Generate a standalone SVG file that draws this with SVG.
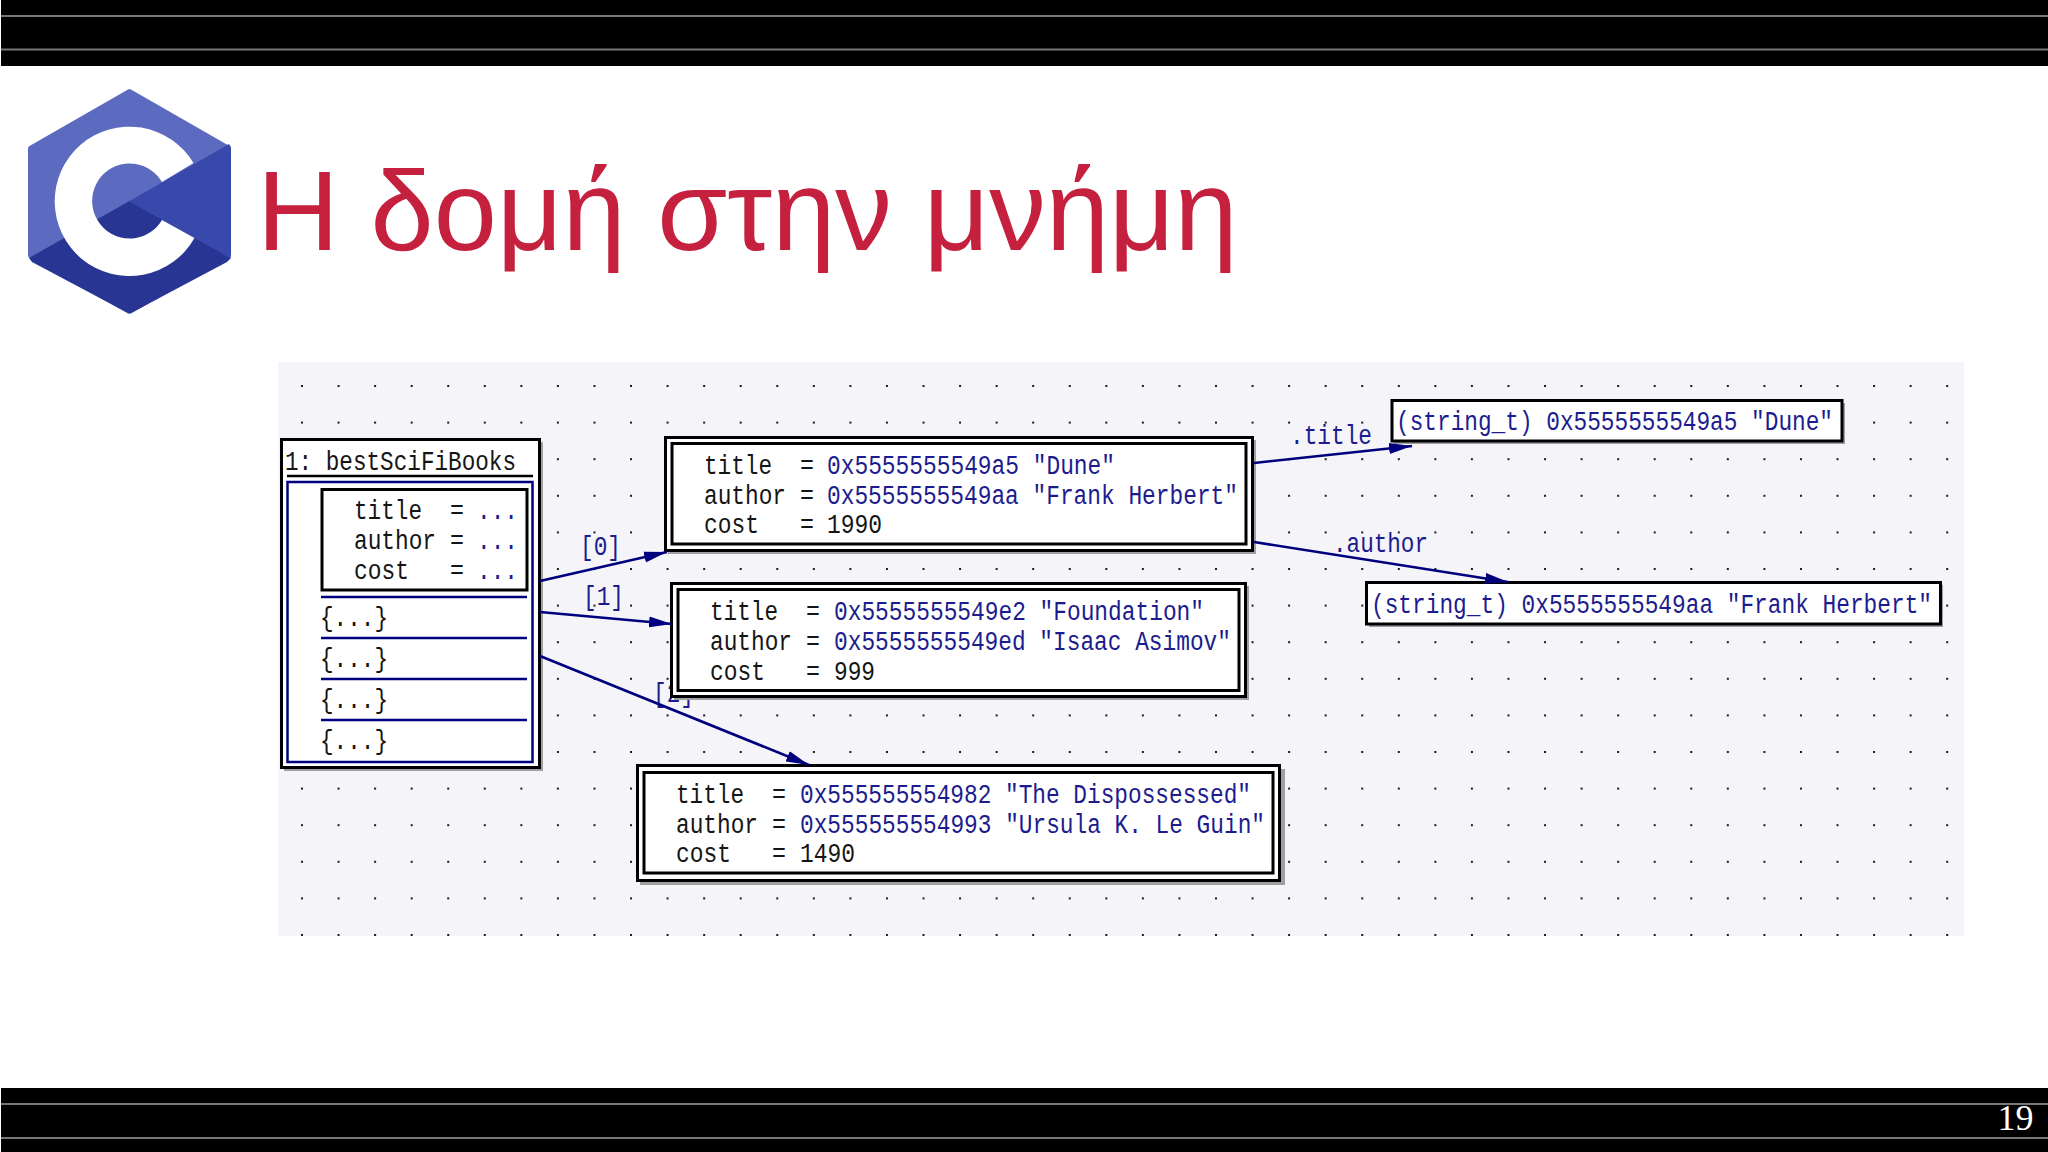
<svg xmlns="http://www.w3.org/2000/svg" width="2048" height="1152" viewBox="0 0 2048 1152">
<style>
.bar{fill:#000}
.rule{stroke:#777;stroke-width:2}
.k,.v{font-family:"Liberation Mono","DejaVu Sans Mono",monospace;font-size:27px}
.k{fill:#151515}
.v{fill:#1c1c8e}
.box{fill:#fff;stroke:#000;stroke-width:3}
.in{fill:none;stroke:#000;stroke-width:3}
.sh{fill:#a0a0a0}
.edge{fill:none;stroke:#00007f;stroke-width:2.6;marker-end:url(#head)}
.sep{stroke:#00007f;stroke-width:2.5}
</style>
<defs>
<pattern id="grid" patternUnits="userSpaceOnUse" x="301" y="385" width="36.56" height="36.6">
<rect width="2" height="2" fill="#1a1a1a"/>
</pattern>
<marker id="head" markerUnits="userSpaceOnUse" markerWidth="24" markerHeight="12" refX="23" refY="6" orient="auto">
<polygon points="0,0.5 23,6 0,11.5" fill="#00007f"/>
</marker>
</defs>
<rect width="2048" height="1152" fill="#fff"/>
<g id="top-bar">
<rect class="bar" x="1" y="0" width="2047" height="66"/>
<line class="rule" x1="1" y1="16" x2="2048" y2="16"/>
<line class="rule" x1="1" y1="49.5" x2="2048" y2="49.5"/>
</g>
<g id="bottom-bar">
<rect class="bar" x="1" y="1088" width="2047" height="64"/>
<line class="rule" x1="1" y1="1104" x2="2048" y2="1104"/>
<line class="rule" x1="1" y1="1138" x2="2048" y2="1138"/>
<text x="1997.5" y="1130" font-family="'Liberation Serif',serif" font-size="36" fill="#fff">19</text>
</g>
<g id="logo">
<path d="M129.500 92 L228 148.500 V255.500 L129.500 311 L31 255.500 V148.500 Z" fill="#5c6bc0" stroke="#5c6bc0" stroke-width="6" stroke-linejoin="round"/>
<path d="M129.500 201 L231 258 L227 262 L131 313 H128 L32 262 L29 258 Z" fill="#283593"/>
<path d="M129.500 201 L229 144 Q231 146 231 150 V254 Q231 257 230 258 Z" fill="#3949ab"/>
<path d="M193.500 163 A74.700 74.700 0 1 0 194.500 238 L162 220 A37.500 37.500 0 1 1 162 182 Z" fill="#fff"/>
</g>
<text id="title" x="257" y="250" font-family="'Liberation Sans',sans-serif" font-size="113.600" fill="#c5203d">Η δομή στην μνήμη</text>
<g id="canvas">
<rect x="278" y="362" width="1686" height="574" fill="#f5f4f8"/>
<rect x="278" y="362" width="1686" height="574" fill="url(#grid)"/>
</g>
<g id="label-index-2">
<text class="v" x="653" y="702" textLength="41" lengthAdjust="spacingAndGlyphs">[2]</text>
</g>
<g id="node-bestSciFiBooks">
<rect class="sh" x="284" y="442" width="259" height="329"/>
<rect class="box" x="281.500" y="439.500" width="258" height="328"/>
<text class="k" x="285" y="470" textLength="231" lengthAdjust="spacingAndGlyphs">1: bestSciFiBooks</text>
<line x1="287" y1="476" x2="533" y2="476" stroke="#000" stroke-width="2.500"/>
<rect x="287.500" y="482" width="245" height="280" fill="none" stroke="#00007f" stroke-width="2.500"/>
<rect class="in" x="322" y="489.500" width="205" height="100.500"/>
<text class="k" x="354" y="519" textLength="68" lengthAdjust="spacingAndGlyphs">title</text>
<text class="k" x="354" y="549" textLength="82" lengthAdjust="spacingAndGlyphs">author</text>
<text class="k" x="354" y="579" textLength="55" lengthAdjust="spacingAndGlyphs">cost</text>
<text class="k" x="450" y="519" textLength="14" lengthAdjust="spacingAndGlyphs">=</text>
<text class="k" x="450" y="549" textLength="14" lengthAdjust="spacingAndGlyphs">=</text>
<text class="k" x="450" y="579" textLength="14" lengthAdjust="spacingAndGlyphs">=</text>
<text class="v" x="477" y="519" textLength="41" lengthAdjust="spacingAndGlyphs">...</text>
<text class="v" x="477" y="549" textLength="41" lengthAdjust="spacingAndGlyphs">...</text>
<text class="v" x="477" y="579" textLength="41" lengthAdjust="spacingAndGlyphs">...</text>
<line class="sep" x1="321" y1="597" x2="527" y2="597"/>
<line class="sep" x1="321" y1="638" x2="527" y2="638"/>
<line class="sep" x1="321" y1="679" x2="527" y2="679"/>
<line class="sep" x1="321" y1="720" x2="527" y2="720"/>
<text class="k" x="320" y="626" textLength="68" lengthAdjust="spacingAndGlyphs">{...}</text>
<text class="k" x="320" y="667" textLength="68" lengthAdjust="spacingAndGlyphs">{...}</text>
<text class="k" x="320" y="708" textLength="68" lengthAdjust="spacingAndGlyphs">{...}</text>
<text class="k" x="320" y="749" textLength="68" lengthAdjust="spacingAndGlyphs">{...}</text>
</g>
<g id="node-book-0">
<rect class="sh" x="668" y="440" width="588" height="114"/>
<rect class="box" x="665.500" y="437.500" width="587" height="113"/>
<rect class="in" x="672" y="443.500" width="574" height="100.500"/>
<text class="k" x="704" y="474" textLength="68" lengthAdjust="spacingAndGlyphs">title</text>
<text class="k" x="704" y="504" textLength="82" lengthAdjust="spacingAndGlyphs">author</text>
<text class="k" x="704" y="533" textLength="55" lengthAdjust="spacingAndGlyphs">cost</text>
<text class="k" x="800" y="474" textLength="14" lengthAdjust="spacingAndGlyphs">=</text>
<text class="k" x="800" y="504" textLength="14" lengthAdjust="spacingAndGlyphs">=</text>
<text class="k" x="800" y="533" textLength="14" lengthAdjust="spacingAndGlyphs">=</text>
<text class="v" x="827" y="474" textLength="288" lengthAdjust="spacingAndGlyphs">0x5555555549a5 "Dune"</text>
<text class="v" x="827" y="504" textLength="411" lengthAdjust="spacingAndGlyphs">0x5555555549aa "Frank Herbert"</text>
<text class="k" x="827" y="533" textLength="55" lengthAdjust="spacingAndGlyphs">1990</text>
</g>
<g id="node-book-1">
<rect class="sh" x="674" y="586" width="575" height="114"/>
<rect class="box" x="671.500" y="583.500" width="574" height="113"/>
<rect class="in" x="678" y="589.500" width="561" height="101"/>
<text class="k" x="710" y="620" textLength="68" lengthAdjust="spacingAndGlyphs">title</text>
<text class="k" x="710" y="650" textLength="82" lengthAdjust="spacingAndGlyphs">author</text>
<text class="k" x="710" y="680" textLength="55" lengthAdjust="spacingAndGlyphs">cost</text>
<text class="k" x="806" y="620" textLength="14" lengthAdjust="spacingAndGlyphs">=</text>
<text class="k" x="806" y="650" textLength="14" lengthAdjust="spacingAndGlyphs">=</text>
<text class="k" x="806" y="680" textLength="14" lengthAdjust="spacingAndGlyphs">=</text>
<text class="v" x="834" y="620" textLength="370" lengthAdjust="spacingAndGlyphs">0x5555555549e2 "Foundation"</text>
<text class="v" x="834" y="650" textLength="397" lengthAdjust="spacingAndGlyphs">0x5555555549ed "Isaac Asimov"</text>
<text class="k" x="834" y="680" textLength="41" lengthAdjust="spacingAndGlyphs">999</text>
</g>
<g id="node-book-2">
<rect class="sh" x="640" y="769" width="645" height="116"/>
<rect class="box" x="637.500" y="765.500" width="642" height="115"/>
<rect class="in" x="644" y="772.500" width="629" height="100.500"/>
<text class="k" x="676" y="803" textLength="68" lengthAdjust="spacingAndGlyphs">title</text>
<text class="k" x="676" y="833" textLength="82" lengthAdjust="spacingAndGlyphs">author</text>
<text class="k" x="676" y="862" textLength="55" lengthAdjust="spacingAndGlyphs">cost</text>
<text class="k" x="772" y="803" textLength="14" lengthAdjust="spacingAndGlyphs">=</text>
<text class="k" x="772" y="833" textLength="14" lengthAdjust="spacingAndGlyphs">=</text>
<text class="k" x="772" y="862" textLength="14" lengthAdjust="spacingAndGlyphs">=</text>
<text class="v" x="800" y="803" textLength="451" lengthAdjust="spacingAndGlyphs">0x555555554982 "The Dispossessed"</text>
<text class="v" x="800" y="833" textLength="465" lengthAdjust="spacingAndGlyphs">0x555555554993 "Ursula K. Le Guin"</text>
<text class="k" x="800" y="862" textLength="55" lengthAdjust="spacingAndGlyphs">1490</text>
</g>
<g id="node-string-title">
<rect class="sh" x="1394" y="403" width="451" height="41"/>
<rect class="box" x="1392" y="400.500" width="450" height="40.500"/>
<text class="v" x="1396" y="430" textLength="437" lengthAdjust="spacingAndGlyphs">(string_t) 0x5555555549a5 "Dune"</text>
</g>
<g id="node-string-author">
<rect class="sh" x="1369" y="585" width="574" height="42"/>
<rect class="box" x="1366.500" y="582.500" width="574" height="41.500"/>
<text class="v" x="1371" y="613" textLength="561" lengthAdjust="spacingAndGlyphs">(string_t) 0x5555555549aa "Frank Herbert"</text>
</g>
<g id="connectors">
<text class="v" x="580" y="555" textLength="41" lengthAdjust="spacingAndGlyphs">[0]</text>
<text class="v" x="583" y="605" textLength="41" lengthAdjust="spacingAndGlyphs">[1]</text>
<text class="v" x="1290" y="444" textLength="82" lengthAdjust="spacingAndGlyphs">.title</text>
<text class="v" x="1333" y="552" textLength="95" lengthAdjust="spacingAndGlyphs">.author</text>
<path class="edge" d="M540 581 L667 552"/>
<path class="edge" d="M540 612 L672 624"/>
<path class="edge" d="M540 656 L809 765"/>
<path class="edge" d="M1254 463 L1412 446"/>
<path class="edge" d="M1254 542 L1508 582"/>
</g>
</svg>
